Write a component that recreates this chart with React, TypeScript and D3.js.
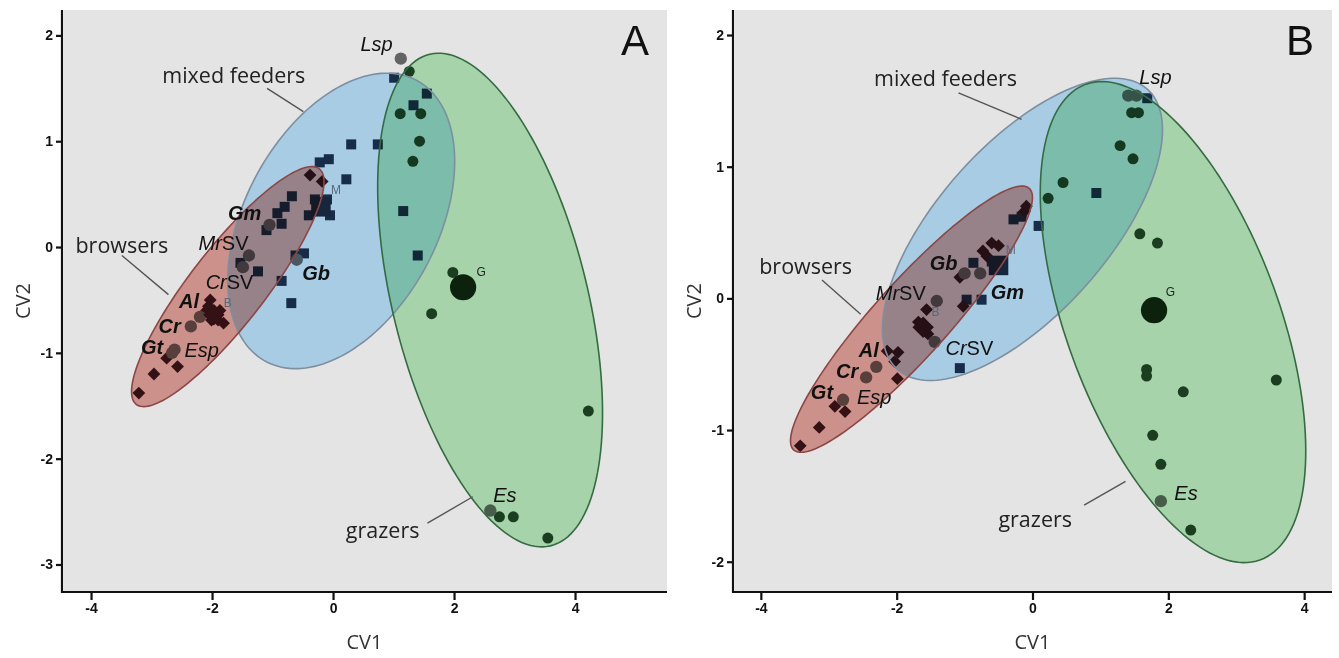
import React, { useEffect, useRef } from "react";
import * as d3 from "d3";

type Pt = [number, number];
type Ell = [number, number, number, number, number, number]; // cx, cy, ux, uy, vx, vy
type Label = [string, number, number];
type Seg = [number, number, number, number];

const W = 1339;
const H = 658;
const TOP = 10;
const BOTTOM = 592;

// ---------- panel A ----------
const browsersA: Pt[] = [
  [-3.21, -1.38], [-2.96, -1.2], [-2.57, -1.13], [-2.75, -1.05], [-2.03, -0.5],
  [-2.09, -0.6], [-1.98, -0.63], [-1.9, -0.69], [-1.81, -0.72], [-2.01, -0.69],
  [-1.87, -0.6], [-2.06, -0.56], [-0.38, 0.68], [-0.18, 0.62],
];
const mixedA: Pt[] = [
  [1.01, 1.6], [1.55, 1.45], [1.33, 1.34], [0.3, 0.97], [0.74, 0.97], [-0.22, 0.8],
  [-0.07, 0.83], [0.22, 0.64], [-0.68, 0.48], [-0.4, 0.3], [-0.05, 0.3], [-0.3, 0.45],
  [-0.1, 0.45], [-0.92, 0.32], [-0.8, 0.38], [-0.85, 0.22], [-1.1, 0.16], [-1.53, -0.15],
  [-1.24, -0.23], [-0.62, -0.08], [-0.48, -0.06], [-0.85, -0.32], [-0.69, -0.53],
  [1.16, 0.34], [1.4, -0.08],
];
const grazersA: Pt[] = [
  [1.26, 1.66], [1.11, 1.26], [1.45, 1.26], [1.43, 1.0], [1.32, 0.81], [1.98, -0.24],
  [1.63, -0.63], [4.22, -1.55], [2.75, -2.55], [2.98, -2.55], [3.55, -2.75],
];
const speciesA: Pt[] = [
  [1.12, 1.78], [2.6, -2.49], [-1.05, 0.21], [-1.39, -0.08], [-1.49, -0.19],
  [-0.6, -0.12], [-2.2, -0.66], [-2.35, -0.75], [-2.62, -0.97], [-2.66, -1.0],
];
const centroidsA: Pt[] = [[-1.97, -0.64], [-0.2, 0.38], [2.15, -0.38]]; // browsers, mixed, grazers
const ellipsesA: Ell[] = [
  [0.135, 0.247, 1.223, 1.335, 1.422, -0.408], // mixed feeders
  [-1.74, -0.374, 1.51, 1.114, 0.499, -0.212], // browsers
  [2.596, -0.501, 0.996, -2.323, 1.569, 0.211], // grazers
];
const groupLabelsA: Label[] = [
  ["mixed feeders", -1.64, 1.63], ["browsers", -3.49, 0.02], ["grazers", 0.82, -2.67],
];
const leadersA: Seg[] = [
  [-1.09, 1.5, -0.49, 1.28], [-3.49, -0.08, -2.72, -0.45], [1.56, -2.61, 2.31, -2.36],
];
const speciesLabelsA: Label[] = [
  ["Lsp", 0.72, 1.92], ["Gm", -1.46, 0.32], ["MrSV", -1.81, 0.04], ["Gb", -0.28, -0.25],
  ["CrSV", -1.71, -0.33], ["Al", -2.38, -0.51], ["Cr", -2.7, -0.75], ["Gt", -2.99, -0.94],
  ["Esp", -2.17, -0.97], ["Es", 2.84, -2.34],
];
const smallLabelsA: Label[] = [["B", -1.74, -0.53], ["M", 0.05, 0.54], ["G", 2.45, -0.24]];

// ---------- panel B ----------
const browsersB: Pt[] = [
  [-3.42, -1.12], [-3.14, -0.98], [-2.91, -0.82], [-2.76, -0.86], [-1.99, -0.61],
  [-2.14, -0.4], [-1.98, -0.41], [-2.03, -0.48], [-1.56, -0.085], [-1.68, -0.18],
  [-1.54, -0.27], [-1.02, -0.06], [-1.07, 0.16], [-0.67, 0.32], [-0.73, 0.36],
  [-0.6, 0.42], [-0.5, 0.4], [-0.12, 0.66], [-0.09, 0.7],
];
const mixedB: Pt[] = [
  [1.69, 1.52], [0.94, 0.8], [0.09, 0.55], [-0.28, 0.6], [-0.16, 0.62], [-0.87, 0.27],
  [-0.6, 0.28], [-0.45, 0.22], [-0.97, -0.01], [-0.75, -0.01], [-1.07, -0.53],
];
const grazersB: Pt[] = [
  [1.46, 1.41], [1.56, 1.41], [1.29, 1.16], [1.48, 1.06], [0.45, 0.88], [0.23, 0.76],
  [1.58, 0.49], [1.84, 0.42], [1.68, -0.54], [1.68, -0.59], [2.22, -0.71], [3.59, -0.62],
  [1.77, -1.04], [1.89, -1.26], [2.33, -1.76],
];
const speciesB: Pt[] = [
  [1.41, 1.54], [1.53, 1.54], [1.89, -1.54], [-1.0, 0.19], [-0.77, 0.19], [-1.41, -0.02],
  [-1.44, -0.33], [-2.3, -0.52], [-2.45, -0.6], [-2.79, -0.77],
];
const centroidsB: Pt[] = [[-1.61, -0.22], [-0.5, 0.25], [1.79, -0.09]];
const ellipsesB: Ell[] = [
  [-0.148, 0.524, 1.829, 1.069, -0.952, 0.417],
  [-1.782, -0.158, 1.732, 0.994, 0.416, -0.185],
  [2.069, -0.18, 1.278, -1.807, 1.479, 0.268],
];
const groupLabelsB: Label[] = [
  ["mixed feeders", -1.28, 1.68], ["browsers", -3.34, 0.25], ["grazers", 0.04, -1.67],
];
const leadersB: Seg[] = [
  [-1.09, 1.56, -0.16, 1.36], [-3.1, 0.14, -2.53, -0.12], [0.76, -1.57, 1.37, -1.39],
];
const speciesLabelsB: Label[] = [
  ["Lsp", 1.81, 1.68], ["Gb", -1.31, 0.27], ["MrSV", -1.94, 0.04], ["Gm", -0.37, 0.05],
  ["CrSV", -0.93, -0.38], ["Al", -2.41, -0.39], ["Cr", -2.73, -0.55], ["Gt", -3.1, -0.71],
  ["Esp", -2.33, -0.75], ["Es", 2.26, -1.48],
];
const smallLabelsB: Label[] = [["B", -1.43, -0.1], ["M", -0.32, 0.37], ["G", 2.03, 0.05]];

const xTicks = [-4, -2, 0, 2, 4];
const yTicksA = [-3, -2, -1, 0, 1, 2];
const yTicksB = [-2, -1, 0, 1, 2];

// ---------- styling ----------
const fillColors = ["#bce4ff", "#e5a29a", "#baecbe"];
const strokeColors = ["#7d8fa0", "#8c4646", "#356b42"];
const boldSpecies = new Set(["Gm", "Gb", "Al", "Cr", "Gt"]);
const FONT = "'Liberation Sans', Arial, sans-serif";
const LABEL_FONT = "'Open Sans', 'Noto Sans', sans-serif";

const squarePath = (area: number) => d3.symbol().type(d3.symbolSquare).size(area)()!;
const circlePath = (area: number) => d3.symbol().type(d3.symbolCircle).size(area)()!;

interface PanelSpec {
  left: number;
  right: number;
  xDomain: [number, number];
  yDomain: [number, number];
  yTicks: number[];
  browsers: Pt[];
  mixed: Pt[];
  grazers: Pt[];
  species: Pt[];
  centroids: Pt[];
  ellipses: Ell[];
  groupLabels: Label[];
  leaders: Seg[];
  speciesLabels: Label[];
  smallLabels: Label[];
  letter: string;
}

const panels: PanelSpec[] = [
  {
    left: 62, right: 667, xDomain: [-4.48, 5.52], yDomain: [-3.26, 2.24], yTicks: yTicksA,
    browsers: browsersA, mixed: mixedA, grazers: grazersA, species: speciesA,
    centroids: centroidsA, ellipses: ellipsesA, groupLabels: groupLabelsA,
    leaders: leadersA, speciesLabels: speciesLabelsA, smallLabels: smallLabelsA, letter: "A",
  },
  {
    left: 733, right: 1332, xDomain: [-4.41, 4.41], yDomain: [-2.23, 2.19], yTicks: yTicksB,
    browsers: browsersB, mixed: mixedB, grazers: grazersB, species: speciesB,
    centroids: centroidsB, ellipses: ellipsesB, groupLabels: groupLabelsB,
    leaders: leadersB, speciesLabels: speciesLabelsB, smallLabels: smallLabelsB, letter: "B",
  },
];

function Panel({ p }: { p: PanelSpec }) {
  const x = d3.scaleLinear().domain(p.xDomain).range([p.left, p.right]);
  const y = d3.scaleLinear().domain(p.yDomain).range([BOTTOM, TOP]);
  const xRef = useRef<SVGGElement>(null);
  const yRef = useRef<SVGGElement>(null);

  useEffect(() => {
    const gx = d3.select(xRef.current!);
    gx.attr("transform", `translate(0,${BOTTOM})`)
      .call(
        d3.axisBottom(x).tickValues(xTicks).tickSize(8).tickSizeOuter(0).tickPadding(3)
          .tickFormat((d) => String(d))
      );
    const gy = d3.select(yRef.current!);
    gy.attr("transform", `translate(${p.left},0)`)
      .call(
        d3.axisLeft(y).tickValues(p.yTicks).tickSize(6).tickSizeOuter(0).tickPadding(3)
          .tickFormat((d) => String(d))
      );
    [gx, gy].forEach((g) => {
      g.attr("font-family", FONT).attr("font-size", 14).attr("font-weight", "bold");
      g.select(".domain").attr("stroke", "#111").attr("stroke-width", 2.2);
      g.selectAll(".tick line").attr("stroke", "#111").attr("stroke-width", 2.2);
      g.selectAll(".tick text").attr("fill", "#111");
    });
    gy.select(".domain").attr("d", `M0,${TOP}V${BOTTOM + 1}`);
    gx.select(".domain").attr("d", `M${p.left - 1},0H${p.right}`);
  }, [p]);

  const ellipsePath = (e: Ell) => {
    const pts: Pt[] = d3.range(0, 160).map((i) => {
      const t = (i / 160) * 2 * Math.PI;
      return [
        e[0] + e[2] * Math.cos(t) + e[4] * Math.sin(t),
        e[1] + e[3] * Math.cos(t) + e[5] * Math.sin(t),
      ];
    });
    return d3.line<Pt>().x((d) => x(d[0])).y((d) => y(d[1])).curve(d3.curveLinearClosed)(pts)!;
  };

  const diamond = (d: Pt, area: number, fill: string, key: string) => (
    <path key={key} d={squarePath(area)} fill={fill}
      transform={`translate(${x(d[0])},${y(d[1])}) rotate(45)`} />
  );
  const square = (d: Pt, area: number, fill: string, key: string) => (
    <path key={key} d={squarePath(area)} fill={fill} transform={`translate(${x(d[0])},${y(d[1])})`} />
  );
  const circle = (d: Pt, area: number, fill: string, key: string) => (
    <path key={key} d={circlePath(area)} fill={fill} transform={`translate(${x(d[0])},${y(d[1])})`} />
  );

  const cx = (p.left + p.right) / 2;

  return (
    <g>
      <rect x={p.left + 2} y={TOP} width={p.right - p.left - 2} height={BOTTOM - TOP} fill="#e4e4e4" />
      {p.grazers.map((d, i) => circle(d, 95, "#24432a", `g${i}`))}
      {p.mixed.map((d, i) => square(d, 100, "#1e3148", `m${i}`))}
      {p.browsers.map((d, i) => diamond(d, 82, "#3a1a22", `b${i}`))}
      {p.species.map((d, i) => circle(d, 120, "#636363", `s${i}`))}
      {diamond(p.centroids[0], 230, "#3a1a22", "cb")}
      {square(p.centroids[1], 380, "#1e2a3c", "cm")}
      {circle(p.centroids[2], 540, "#10240f", "cg")}
      {p.ellipses.map((e, i) => (
        <path key={`ef${i}`} d={ellipsePath(e)} fill={fillColors[i]} style={{ mixBlendMode: "multiply" }} />
      ))}
      {p.ellipses.map((e, i) => (
        <path key={`es${i}`} d={ellipsePath(e)} fill="none" stroke={strokeColors[i]} strokeWidth={1.6} />
      ))}
      {p.leaders.map((s, i) => (
        <line key={`l${i}`} x1={x(s[0])} y1={y(s[1])} x2={x(s[2])} y2={y(s[3])} stroke="#555" strokeWidth={1.4} />
      ))}
      {p.groupLabels.map((l, i) => (
        <text key={`gl${i}`} x={x(l[1])} y={y(l[2])} textAnchor="middle" dominantBaseline="central"
          fontFamily={LABEL_FONT} fontSize={21.5} fill="#222">{l[0]}</text>
      ))}
      {p.speciesLabels.map((l, i) => {
        const sv = l[0].endsWith("SV");
        return (
          <text key={`sl${i}`} x={x(l[1])} y={y(l[2])} textAnchor="middle" dominantBaseline="central"
            fontFamily={FONT} fontSize={20} fill="#111"
            fontWeight={boldSpecies.has(l[0]) ? "bold" : "normal"}>
            {sv ? (
              <>
                <tspan fontStyle="italic">{l[0].slice(0, 2)}</tspan>
                <tspan>SV</tspan>
              </>
            ) : (
              <tspan fontStyle="italic">{l[0]}</tspan>
            )}
          </text>
        );
      })}
      {p.smallLabels.map((l, i) => (
        <text key={`sm${i}`} x={x(l[1])} y={y(l[2])} textAnchor="middle" dominantBaseline="central"
          fontFamily={FONT} fontSize={12} fill={l[0] === "G" ? "#222" : "#5a6878"}>{l[0]}</text>
      ))}
      <text x={p.right - 32} y={TOP + 30} textAnchor="middle" dominantBaseline="central"
        fontFamily={FONT} fontSize={42} fill="#111">{p.letter}</text>
      <g ref={xRef} />
      <g ref={yRef} />
      <text x={cx} y={641} textAnchor="middle" dominantBaseline="central" fontFamily={LABEL_FONT}
        fontSize={20} fill="#333">CV1</text>
      <text transform={`translate(${p.left - 40},${(TOP + BOTTOM) / 2}) rotate(-90)`} textAnchor="middle"
        dominantBaseline="central" fontFamily={LABEL_FONT} fontSize={20} fill="#333">CV2</text>
    </g>
  );
}

export default function App() {
  return (
    <svg width={W} height={H} style={{ position: "absolute", left: 0, top: 0, background: "#fff" }}>
      {panels.map((p) => (
        <Panel key={p.letter} p={p} />
      ))}
    </svg>
  );
}
